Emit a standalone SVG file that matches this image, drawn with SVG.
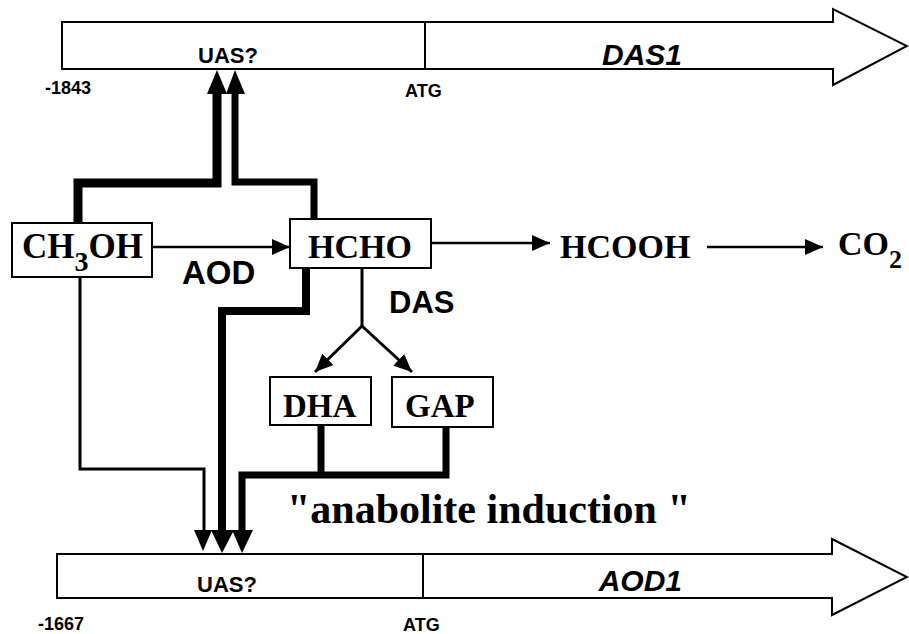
<svg xmlns="http://www.w3.org/2000/svg" width="909" height="634" viewBox="0 0 909 634">
<style>
.gene{fill:#fff;stroke:#000;stroke-width:2}
.box{fill:#fff;stroke:#000;stroke-width:2}
.serif{font-family:"Liberation Serif","Times New Roman",serif;font-weight:bold;fill:#000}
.sans{font-family:"Liberation Sans",Arial,sans-serif;font-weight:bold;fill:#000}
.it{font-style:italic}
.thin{fill:none;stroke:#000;stroke-width:2.5}
.thinl{fill:none;stroke:#000;stroke-width:3}
.thick{fill:none;stroke:#000;stroke-linejoin:miter;stroke-linecap:butt}
.head{fill:#000}
</style>
<defs>
<marker id="ah" markerUnits="userSpaceOnUse" markerWidth="18" markerHeight="16" refX="18" refY="8" orient="auto">
<path d="M0,0 L18,8 L0,16 z" fill="#000"/>
</marker>
</defs>
<rect width="909" height="634" fill="#fff"/>

<g id="gene-DAS1">
<polygon class="gene" points="62,22 833,22 833,9 907,46 833,85 833,69 62,69"/>
<line x1="425" y1="22" x2="425" y2="69" stroke="#000" stroke-width="2"/>
<text class="sans" x="198" y="63" font-size="22">UAS?</text>
<text class="sans" x="45" y="94" font-size="18">-1843</text>
<text class="sans" x="405" y="97" font-size="18">ATG</text>
<text class="sans it" x="682" y="65" font-size="30" text-anchor="end">DAS1</text>
</g>

<g id="gene-AOD1">
<polygon class="gene" points="57,554 832,554 832,539 907,577 832,615 832,598 57,598"/>
<line x1="423" y1="554" x2="423" y2="598" stroke="#000" stroke-width="2"/>
<text class="sans" x="197" y="592" font-size="22">UAS?</text>
<text class="sans" x="38" y="630" font-size="18">-1667</text>
<text class="sans" x="403" y="631" font-size="18">ATG</text>
<text class="sans it" x="682" y="591" font-size="30" text-anchor="end">AOD1</text>
</g>

<g id="connectors">
<path class="thin" d="M152,247 L290,247" marker-end="url(#ah)"/>
<path class="thin" d="M431,243 L550,243" marker-end="url(#ah)"/>
<path class="thin" d="M707,247 L823,247" marker-end="url(#ah)"/>
<path class="thinl" d="M362,268 L362,326"/>
<path class="thinl" d="M362,326 L315,372" marker-end="url(#ah)"/>
<path class="thinl" d="M362,326 L412,372" marker-end="url(#ah)"/>
<path class="thinl" d="M80,277 L80,469 L204,469 L204,531"/>
<path class="thick" stroke-width="9" d="M78,223 L78,183 L217,183 L217,93"/>
<path class="thick" stroke-width="7" d="M314,219 L314,182 L235,182 L235,93"/>
<path class="thick" stroke-width="8" d="M306,268 L306,311 L222,311 L222,531"/>
<path class="thick" stroke-width="7" d="M321,425 L321,475"/>
<path class="thick" stroke-width="7" d="M446,427 L446,475 L242,475 L242,531"/>
<polygon class="head" points="207,94 227,94 217,70"/>
<polygon class="head" points="226,94 245,94 235,70"/>
<polygon class="head" points="194,530 212,530 203,551"/>
<polygon class="head" points="211,530 234,530 222,553"/>
<polygon class="head" points="232,530 253,530 242,553"/>
</g>

<g id="node-CH3OH">
<rect class="box" x="12" y="223" width="140" height="54"/>
<text class="serif" x="22" y="258" font-size="35">CH<tspan font-size="28" dy="13">3</tspan><tspan dy="-13">OH</tspan></text>
</g>

<g id="node-HCHO">
<rect class="box" x="290" y="219" width="141" height="49"/>
<text class="serif" x="308" y="258" font-size="34">HCHO</text>
</g>

<g id="node-HCOOH">
<text class="serif" x="560" y="258" font-size="34">HCOOH</text>
</g>

<g id="node-CO2">
<text class="serif" x="838" y="255" font-size="34">CO<tspan font-size="26" dy="13">2</tspan></text>
</g>

<g id="node-DHA">
<rect class="box" x="270" y="377" width="101" height="48"/>
<text class="serif" x="283" y="417" font-size="33">DHA</text>
</g>

<g id="node-GAP">
<rect class="box" x="392" y="377" width="101" height="50"/>
<text class="serif" x="405" y="417" font-size="33">GAP</text>
</g>

<g id="labels">
<text class="sans" x="182" y="284" font-size="33">AOD</text>
<text class="sans" x="389" y="313" font-size="31">DAS</text>
<text class="serif" x="287" y="523" font-size="42">"anabolite induction "</text>
</g>
</svg>
